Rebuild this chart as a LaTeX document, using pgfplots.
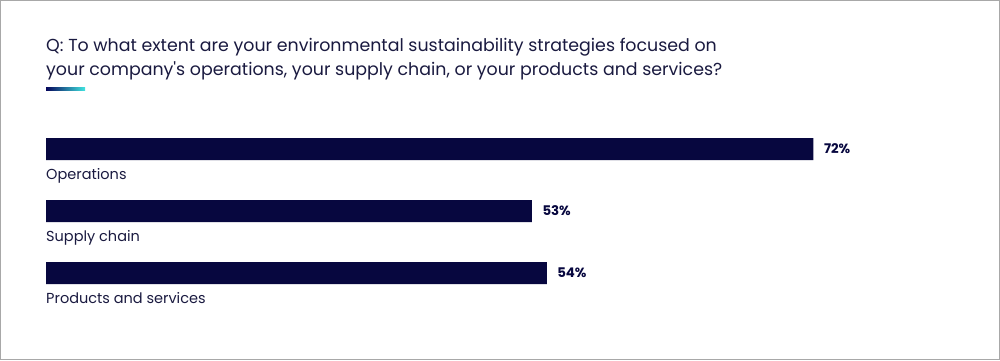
\documentclass[border=0pt]{standalone}
\usepackage{pgfplots}
\pgfplotsset{compat=1.18}
\usepackage{fontspec}
\setmainfont{Poppins}
\definecolor{navy}{HTML}{07073F}
\definecolor{txt}{HTML}{1A1A40}
\definecolor{cyanx}{HTML}{40E4E0}
\definecolor{bordergray}{HTML}{A8A8A8}
\begin{document}
\begin{tikzpicture}[x=1pt,y=1pt]
\useasboundingbox (0,0) rectangle (1000,360);
\fill[white] (0,0) rectangle (1000,360);
\draw[bordergray,line width=1.2pt] (0.6,0.6) rectangle (999.4,359.4);
\node[anchor=base west,inner sep=0pt,text=txt,font=\fontsize{17.4}{24}\selectfont] at (46,309) {Q: To what extent are your environmental sustainability strategies focused on};
\node[anchor=base west,inner sep=0pt,text=txt,font=\fontsize{17.4}{24}\selectfont] at (46,285) {your company\textquotesingle s operations, your supply chain, or your products and services?};
\shade[left color=navy!85!blue,right color=cyanx] (46,269.5) rectangle (85,272.5);
\begin{axis}[
  at={(46pt,242pt)}, anchor=north west,
  scale only axis,
  width=886pt, height=186pt,
  xbar, bar width=22pt,
  xmin=20.2, xmax=80,
  ymin=-0.5, ymax=2.5, y dir=reverse,
  axis line style={draw=none},
  xtick=\empty,
  ytick={0,1,2},
  yticklabels={Operations,Supply chain,Products and services},
  major tick length=0pt,
  yticklabel style={anchor=base west, inner sep=0pt, yshift=-30pt, text=txt, font=\fontsize{14.5}{16}\selectfont},
  nodes near coords={\pgfmathprintnumber{\pgfplotspointmeta}\%},
  point meta=x,
  nodes near coords style={anchor=west, xshift=7pt, text=navy, font=\bfseries\fontsize{13.3}{15}\selectfont},
  every node near coord/.append style={/pgf/number format/assume math mode=true},
  clip mode=individual,
]
\addplot[fill=navy, draw=none] coordinates {(72,0) (53,1) (54,2)};
\end{axis}
\end{tikzpicture}
\end{document}
